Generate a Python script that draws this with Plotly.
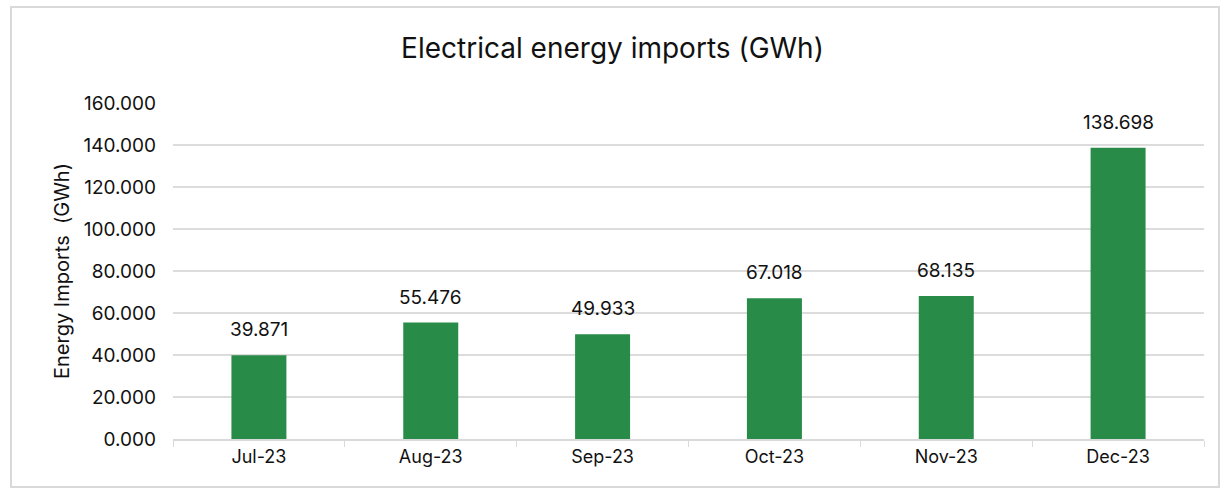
import plotly.graph_objects as go

months = ["Jul-23", "Aug-23", "Sep-23", "Oct-23", "Nov-23", "Dec-23"]
imports_gwh = [39.871, 55.476, 49.933, 67.018, 68.135, 138.698]
y_ticks = [0, 20, 40, 60, 80, 100, 120, 140, 160]

W, H = 1225, 489
L, R, T, B = 173, 21, 103, 50
pw, ph = W - L - R, H - T - B
FONT = "Inter, sans-serif"

fig = go.Figure(go.Bar(
    x=months, y=imports_gwh,
    marker=dict(color="#288b47", line=dict(width=0)),
    hoverinfo="x+y",
))

for m, v in zip(months, imports_gwh):
    fig.add_annotation(x=m, y=v, text=f"{v:.3f}", showarrow=False,
                       yanchor="bottom", yshift=12,
                       font=dict(size=19, color="#111111", family=FONT))

fig.update_layout(
    width=W, height=H,
    margin=dict(l=L, r=R, t=T, b=B),
    paper_bgcolor="white", plot_bgcolor="white",
    font=dict(family=FONT, color="#111111", size=18),
    title=dict(text="Electrical energy imports (GWh)", x=0.5, xanchor="center",
               y=1 - 48 / H, yanchor="middle", font=dict(size=28, color="#111111")),
    bargap=0.68,
    showlegend=False,
    xaxis=dict(showline=True, linecolor="#d9d9d9", linewidth=2,
               ticks="outside", tickson="boundaries", ticklen=6, tickcolor="#d9d9d9",
               tickfont=dict(size=18), showgrid=False),
    yaxis=dict(range=[0, 160], tickvals=y_ticks, tickformat=".3f",
               showgrid=True, gridcolor="#dcdcdc", gridwidth=2,
               zeroline=False, showline=False, ticks="", ticklabelstandoff=16,
               tickfont=dict(size=19),
               title=dict(text="Energy Imports  (GWh)", font=dict(size=20), standoff=8)),
    shapes=[dict(type="rect", xref="paper", yref="paper",
                 x0=(11 - L) / pw, x1=(1219 - L) / pw,
                 y0=-(487 - (T + ph)) / ph, y1=1 + (T - 7) / ph,
                 line=dict(color="#d9d9d9", width=2), fillcolor="rgba(0,0,0,0)", layer="below")],
)

fig.write_html("out.html", config={"displayModeBar": False},
               post_script="document.body.style.margin='0';")
